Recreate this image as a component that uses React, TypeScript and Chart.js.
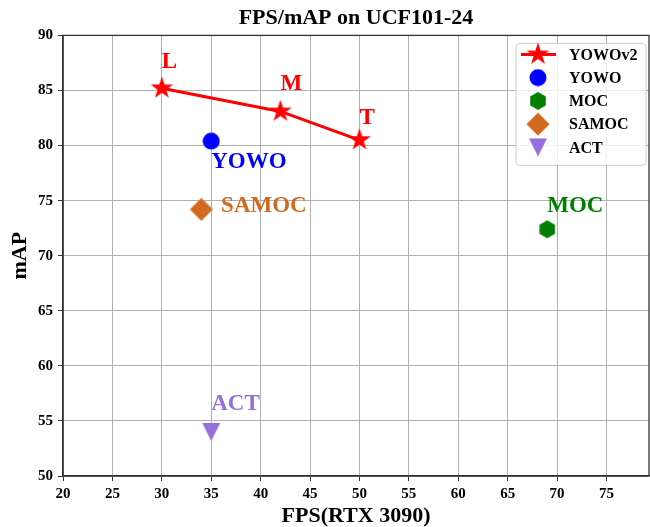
import React, { useEffect, useRef } from 'react';
import { Chart, registerables } from 'chart.js';

Chart.register(...registerables);

const FONT = "'Liberation Serif', 'Times New Roman', serif";

const chartTitle = 'FPS/mAP on UCF101-24';
const xTitle = 'FPS(RTX 3090)';
const yTitle = 'mAP';

const seriesNames = ['YOWOv2', 'YOWO', 'MOC', 'SAMOC', 'ACT'];
const seriesColors = ['#ff0000', '#0000ff', '#008000', '#d2691e', '#9370db'];
const seriesShapes = ['star', 'circle', 'hexagon', 'diamond', 'triangleDown'];

const yowov2FPS = [30, 42, 50];
const yowov2MAP = [85.2, 83.1, 80.5];
const yowoFPS = [35];
const yowoMAP = [80.4];
const mocFPS = [69];
const mocMAP = [72.4];
const samocFPS = [34];
const samocMAP = [74.2];
const actFPS = [35];
const actMAP = [54.0];

const labelTexts = ['L', 'M', 'T', 'YOWO', 'SAMOC', 'MOC', 'ACT'];
const labelX = [30, 42, 50, 35, 36, 69, 35];
const labelY = [87, 85, 82, 78, 74, 74, 56];
const labelColors = ['#ff0000', '#ff0000', '#ff0000', '#0000ff', '#d2691e', '#008000', '#9370db'];

const xMin = 20;
const xMax = 79.3;
const xStep = 5;
const yMin = 50;
const yMax = 90;
const yStep = 5;

function makeMarker(shape: string, color: string): HTMLCanvasElement {
  const size = shape === 'star' || shape === 'diamond' ? 24 : shape === 'circle' ? 18 : 20;
  const c = document.createElement('canvas');
  c.width = size;
  c.height = size;
  const g = c.getContext('2d')!;
  const cx = size / 2;
  const cy = size / 2;
  g.fillStyle = color;
  g.beginPath();
  if (shape === 'star') {
    const R = 11.8;
    const r = R * 0.382;
    for (let i = 0; i < 10; i++) {
      const a = -Math.PI / 2 + (i * Math.PI) / 5;
      const rad = i % 2 === 0 ? R : r;
      const px = cx + rad * Math.cos(a);
      const py = cy + rad * Math.sin(a);
      if (i === 0) g.moveTo(px, py);
      else g.lineTo(px, py);
    }
    g.closePath();
  } else if (shape === 'circle') {
    g.arc(cx, cy, 8.5, 0, Math.PI * 2);
  } else if (shape === 'hexagon') {
    const R = 9;
    for (let i = 0; i < 6; i++) {
      const a = -Math.PI / 2 + (i * Math.PI) / 3;
      const px = cx + R * Math.cos(a);
      const py = cy + R * Math.sin(a);
      if (i === 0) g.moveTo(px, py);
      else g.lineTo(px, py);
    }
    g.closePath();
  } else if (shape === 'diamond') {
    const h = 11.5;
    g.moveTo(cx, cy - h);
    g.lineTo(cx + h, cy);
    g.lineTo(cx, cy + h);
    g.lineTo(cx - h, cy);
    g.closePath();
  } else if (shape === 'triangleDown') {
    const h = 9;
    g.moveTo(cx - h, cy - h);
    g.lineTo(cx + h, cy - h);
    g.lineTo(cx, cy + h);
    g.closePath();
  }
  g.fill();
  return c;
}

export default function App() {
  const ref = useRef<HTMLCanvasElement | null>(null);

  useEffect(() => {
    const canvas = ref.current;
    if (!canvas) return;
    const markers = seriesShapes.map((s, i) => makeMarker(s, seriesColors[i]));

    const toPts = (xs: number[], ys: number[]) => xs.map((x, i) => ({ x, y: ys[i] }));
    const seriesData = [
      toPts(yowov2FPS, yowov2MAP),
      toPts(yowoFPS, yowoMAP),
      toPts(mocFPS, mocMAP),
      toPts(samocFPS, samocMAP),
      toPts(actFPS, actMAP),
    ];

    // Make the plot area reach the right edge (as in the reference) and center the title over it.
    const stretchPlugin = {
      id: 'stretch',
      afterLayout(chart: any) {
        const target = chart.width - 1;
        const a = chart.chartArea;
        a.right = target;
        a.width = target - a.left;
        const xs = chart.scales.x;
        xs.right = target;
        xs.width = target - xs.left;
        xs.configure();
        xs._labelItems = null;
        xs._gridLineItems = null;
        if (chart.titleBlock) {
          chart.titleBlock.left = a.left;
          chart.titleBlock.right = target;
          chart.titleBlock.width = target - a.left;
        }
      },
    };

    const framePlugin = {
      id: 'frame',
      afterDatasetsDraw(chart: any) {
        const { ctx, chartArea: a } = chart;
        ctx.save();
        ctx.strokeStyle = '#333333';
        ctx.lineWidth = 1.3;
        ctx.strokeRect(a.left, a.top, a.right - a.left, a.bottom - a.top);
        ctx.restore();
      },
    };

    const annotationPlugin = {
      id: 'annotations',
      afterDatasetsDraw(chart: any) {
        const { ctx } = chart;
        const xs = chart.scales.x;
        const ys = chart.scales.y;
        ctx.save();
        ctx.font = `bold 23px ${FONT}`;
        ctx.textAlign = 'left';
        ctx.textBaseline = 'alphabetic';
        labelTexts.forEach((t, i) => {
          ctx.fillStyle = labelColors[i];
          ctx.fillText(t, xs.getPixelForValue(labelX[i]), ys.getPixelForValue(labelY[i]));
        });
        ctx.restore();
      },
    };

    const legendPlugin = {
      id: 'customLegend',
      afterDraw(chart: any) {
        const { ctx, chartArea: a } = chart;
        const w = 130;
        const h = 122;
        const left = a.right - 3 - w;
        const top = a.top + 8;
        ctx.save();
        ctx.beginPath();
        if (ctx.roundRect) ctx.roundRect(left, top, w, h, 4);
        else ctx.rect(left, top, w, h);
        ctx.fillStyle = 'rgba(255,255,255,0.8)';
        ctx.fill();
        ctx.strokeStyle = '#cccccc';
        ctx.lineWidth = 1;
        ctx.stroke();
        ctx.font = `bold 16px ${FONT}`;
        ctx.textAlign = 'left';
        ctx.textBaseline = 'middle';
        seriesNames.forEach((name, i) => {
          const y = top + 11 + i * 23.25;
          const mx = left + 22;
          if (i === 0) {
            ctx.strokeStyle = seriesColors[0];
            ctx.lineWidth = 3;
            ctx.beginPath();
            ctx.moveTo(left + 5, y);
            ctx.lineTo(left + 40, y);
            ctx.stroke();
          }
          const img = markers[i];
          ctx.drawImage(img, mx - img.width / 2, y - img.height / 2);
          ctx.fillStyle = '#000000';
          ctx.fillText(name, left + 53, y + 1);
        });
        ctx.restore();
      },
    };

    const tickFont = { family: FONT, size: 15, weight: 'bold' as const };
    const titleFont = { family: FONT, size: 22, weight: 'bold' as const, lineHeight: 1.2 };
    const axisTitleFont = { family: FONT, size: 22, weight: 'bold' as const, lineHeight: 1.0 };

    const chart = new Chart(canvas, {
      type: 'scatter',
      data: {
        datasets: seriesNames.map((name, i) => ({
          label: name,
          data: seriesData[i],
          showLine: i === 0,
          borderColor: seriesColors[i],
          backgroundColor: seriesColors[i],
          borderWidth: i === 0 ? 3 : 0,
          pointStyle: markers[i] as any,
          pointRadius: 10,
          order: i === 0 ? 1 : 0,
        })),
      },
      options: {
        responsive: false,
        animation: false,
        layout: { padding: { top: 0, right: 1, bottom: 0, left: 0 } },
        plugins: {
          legend: { display: false },
          tooltip: { enabled: false },
          title: {
            display: true,
            text: chartTitle,
            color: '#000000',
            font: titleFont,
            padding: { top: 5, bottom: 4 },
          },
        },
        scales: {
          x: {
            type: 'linear',
            min: xMin,
            max: xMax,
            ticks: {
              stepSize: xStep,
              includeBounds: false,
              color: '#000000',
              font: tickFont,
              padding: 4,
              maxRotation: 0,
            },
            grid: { color: '#b0b0b0', lineWidth: 1, tickColor: '#333333', tickLength: 5, tickWidth: 1 },
            border: { color: '#333333', width: 1.3 },
            title: { display: true, text: xTitle, color: '#000000', font: axisTitleFont, padding: { top: 0, bottom: 0 } },
            afterFit: (s: any) => {
              s.height = 51;
            },
          },
          y: {
            type: 'linear',
            min: yMin,
            max: yMax,
            ticks: {
              stepSize: yStep,
              color: '#000000',
              font: tickFont,
              padding: 5,
            },
            grid: { color: '#b0b0b0', lineWidth: 1, tickColor: '#333333', tickLength: 5, tickWidth: 1 },
            border: { color: '#333333', width: 1.3 },
            title: { display: true, text: yTitle, color: '#000000', font: axisTitleFont, padding: { top: 9, bottom: 9 } },
            afterFit: (s: any) => {
              s.width = 63;
            },
          },
        },
      },
      plugins: [stretchPlugin, framePlugin, annotationPlugin, legendPlugin],
    });

    return () => chart.destroy();
  }, []);

  return (
    <div style={{ position: 'fixed', left: 0, top: 0, width: 650, height: 527, background: '#ffffff' }}>
      <canvas ref={ref} width={650} height={527} style={{ width: 650, height: 527, display: 'block' }} />
    </div>
  );
}
